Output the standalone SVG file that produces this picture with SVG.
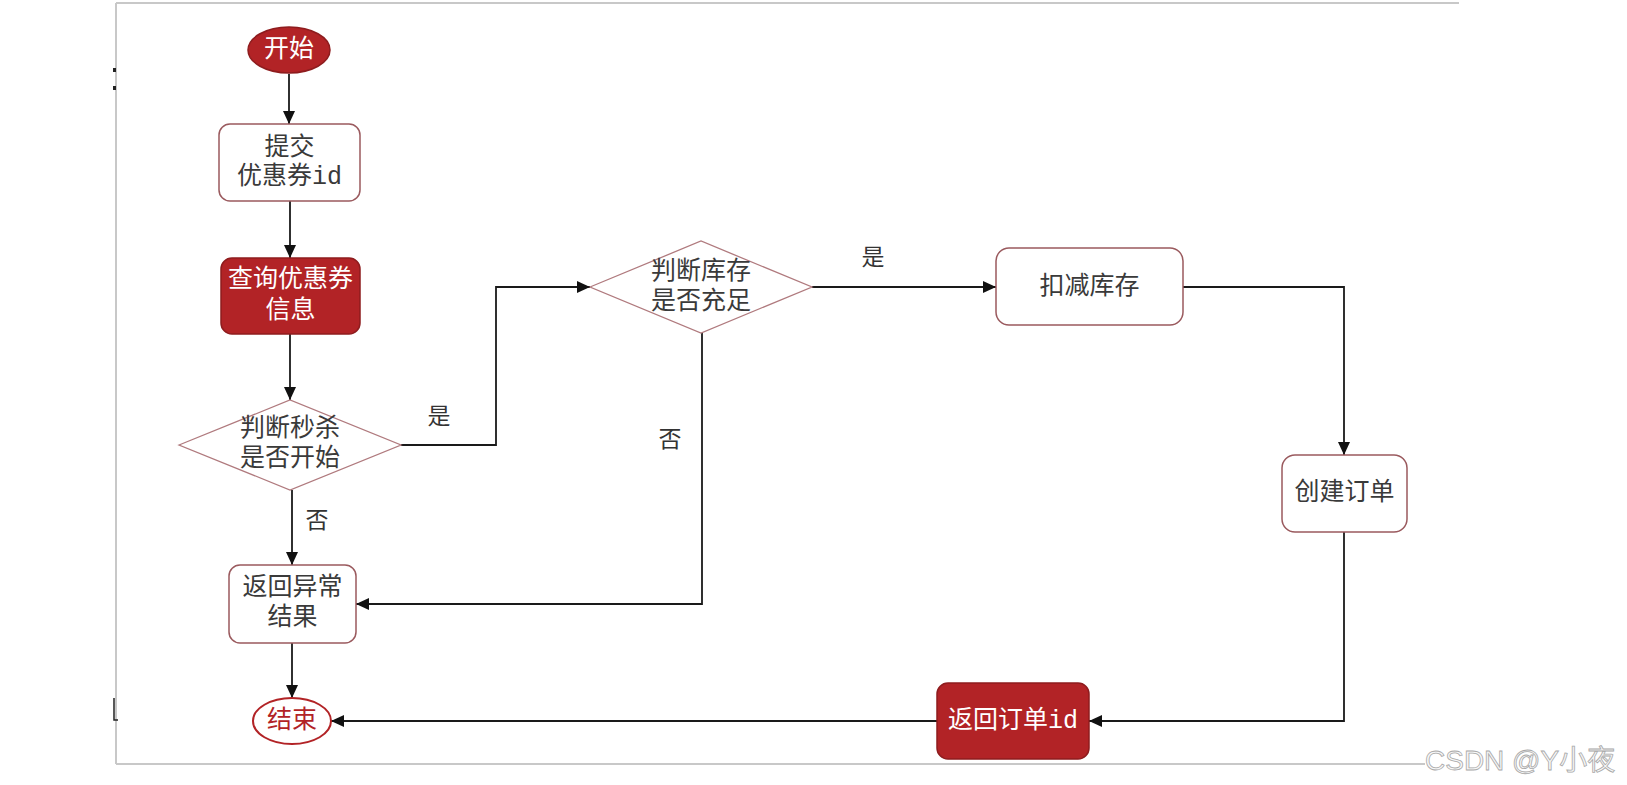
<svg xmlns="http://www.w3.org/2000/svg" width="1627" height="785" viewBox="0 0 1627 785">
<defs>
<marker id="arr" markerUnits="userSpaceOnUse" markerWidth="14" markerHeight="13" refX="13" refY="6" orient="auto">
<path d="M0,0 L13,6 L0,12 z" fill="#111"/>
</marker>
</defs>
<style>
.frame{stroke:#c8c8c8;stroke-width:2;fill:none}
.box{fill:#fff;stroke:#9a5a5e;stroke-width:1.5}
.red{fill:#b22326;stroke:#8e1c1e;stroke-width:1.5}
.dia{fill:#fff;stroke:#b07a7e;stroke-width:1.3}
.conn{fill:none;stroke:#1a1a1a;stroke-width:1.8;marker-end:url(#arr)}
text{font-family:"Liberation Mono","Noto Sans CJK SC",monospace;font-size:25px;text-anchor:middle;dominant-baseline:central}
.dark{fill:#3a3a3a}
.white{fill:#fff}
.lbl{fill:#333;font-size:23px}
.wm{font-family:"Liberation Sans","Noto Sans CJK SC",sans-serif;font-size:28px;text-anchor:start;dominant-baseline:auto;fill:#f7f7f7;stroke:#a8a8a8;stroke-width:0.8}
</style>
<rect width="1627" height="785" fill="#fff"/>
<g id="frame">
<line class="frame" x1="116" y1="3" x2="1459" y2="3"/>
<line class="frame" x1="116" y1="3" x2="116" y2="764"/>
<line class="frame" x1="116" y1="764" x2="1425" y2="764"/>
<rect x="113" y="68" width="3" height="4" fill="#222"/>
<rect x="113" y="86" width="3" height="4" fill="#222"/>
<path d="M114,698 L114,720 L118,720" fill="none" stroke="#222" stroke-width="1.5"/>
</g>
<g id="connectors">
<path class="conn" d="M289,74 L289,124"/>
<path class="conn" d="M290,201 L290,258"/>
<path class="conn" d="M290,334 L290,400"/>
<path class="conn" d="M401,445 L496,445 L496,287 L590,287"/>
<path class="conn" d="M812,287 L996,287"/>
<path class="conn" d="M1183,287 L1344,287 L1344,455"/>
<path class="conn" d="M1344,532 L1344,721 L1089,721"/>
<path class="conn" d="M937,721 L331,721"/>
<path class="conn" d="M292,490 L292,565"/>
<path class="conn" d="M702,333 L702,604 L356,604"/>
<path class="conn" d="M292,643 L292,698"/>
<text class="lbl" x="439" y="418">是</text>
<text class="lbl" x="873" y="259">是</text>
<text class="lbl" x="317" y="522">否</text>
<text class="lbl" x="670" y="441">否</text>
</g>
<g id="start">
<ellipse class="red" cx="289" cy="50" rx="41" ry="23"/>
<text class="white" x="289" y="50">开始</text>
</g>
<g id="submit">
<rect class="box" x="219" y="124" width="141" height="77" rx="11"/>
<text class="dark" x="289.5" y="148">提交</text>
<text class="dark" x="289.5" y="177">优惠券id</text>
</g>
<g id="query">
<rect class="red" x="221" y="258" width="139" height="76" rx="11"/>
<text class="white" x="290.5" y="280">查询优惠券</text>
<text class="white" x="290.5" y="311">信息</text>
</g>
<g id="check-start">
<polygon class="dia" points="179,445 290,400 401,445 290,490"/>
<text class="dark" x="290" y="429">判断秒杀</text>
<text class="dark" x="290" y="459">是否开始</text>
</g>
<g id="check-stock">
<polygon class="dia" points="590,287 701,241 812,287 701,333"/>
<text class="dark" x="701" y="272">判断库存</text>
<text class="dark" x="701" y="302">是否充足</text>
</g>
<g id="deduct">
<rect class="box" x="996" y="248" width="187" height="77" rx="13"/>
<text class="dark" x="1089.5" y="287">扣减库存</text>
</g>
<g id="create-order">
<rect class="box" x="1282" y="455" width="125" height="77" rx="13"/>
<text class="dark" x="1344.5" y="493">创建订单</text>
</g>
<g id="return-order">
<rect class="red" x="937" y="683" width="152" height="76" rx="11"/>
<text class="white" x="1013" y="721">返回订单id</text>
</g>
<g id="return-error">
<rect class="box" x="229" y="565" width="127" height="78" rx="11"/>
<text class="dark" x="292.5" y="588">返回异常</text>
<text class="dark" x="292.5" y="618">结果</text>
</g>
<g id="end">
<ellipse cx="292" cy="721" rx="39" ry="23" fill="#fff" stroke="#b22326" stroke-width="2"/>
<text x="292" y="721" fill="#b22326">结束</text>
</g>
<text class="wm" x="1425" y="770">CSDN @Y小夜</text>
</svg>
